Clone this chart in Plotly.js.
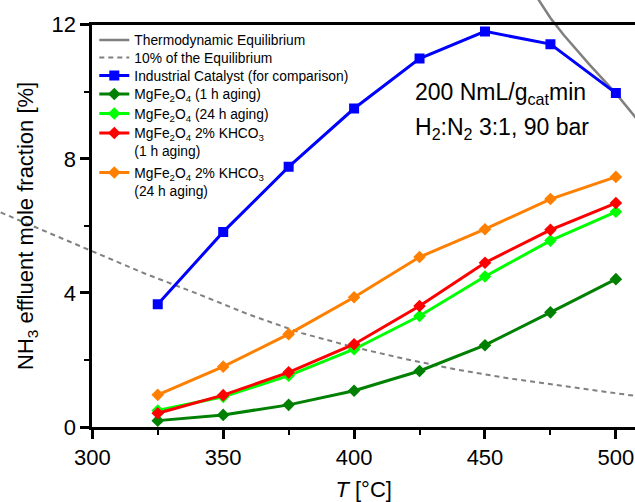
<!DOCTYPE html>
<html><head><meta charset="utf-8">
<script src="https://cdn.plot.ly/plotly-3.0.1.min.js"></script>
<style>html,body{margin:0;padding:0;background:#fff;} #chart{width:635px;height:502px;}</style>
</head><body><div id="chart"></div>
<script>
// ---- data ----
const temperatures = [325, 350, 375, 400, 425, 450, 475, 500];
const industrialCatalyst = [3.66, 5.82, 7.76, 9.50, 10.99, 11.80, 11.42, 9.96];
const mgfe1h = [0.19, 0.36, 0.66, 1.08, 1.67, 2.44, 3.42, 4.41];
const mgfe24h = [0.49, 0.90, 1.53, 2.32, 3.31, 4.49, 5.56, 6.42];
const khco1h = [0.41, 0.95, 1.63, 2.47, 3.61, 4.90, 5.88, 6.68];
const khco24h = [0.96, 1.80, 2.77, 3.87, 5.07, 5.90, 6.80, 7.46];
const eqT = [465, 470, 475, 480, 490, 500, 510];
const eqValues = [13.3, 12.8, 12.2, 11.7, 10.8, 9.95, 9.0];
const tenPctT = [265, 280, 300, 320, 340, 360, 380, 400, 420, 440, 460, 480, 500, 510];
const tenPctValues = [6.40, 5.90, 5.24, 4.58, 3.98, 3.35, 2.80, 2.38, 2.02, 1.70, 1.44, 1.22, 1.02, 0.90];
const xTicks = [300, 350, 400, 450, 500];
const xMinor = [325, 375, 425, 475];
const yTicks = [0, 4, 8, 12];
const yMinor = [2, 6, 10];
const legendNames = [
  'Thermodynamic Equilibrium',
  '10% of the Equilibrium',
  'Industrial Catalyst (for comparison)',
  'MgFe<sub>2</sub>O<sub>4</sub> (1 h aging)',
  'MgFe<sub>2</sub>O<sub>4</sub> (24 h aging)',
  'MgFe<sub>2</sub>O<sub>4</sub> 2% KHCO<sub>3</sub><br>(1 h aging)',
  'MgFe<sub>2</sub>O<sub>4</sub> 2% KHCO<sub>3</sub><br>(24 h aging)'
];
const annotLines = ['200 NmL/g<sub>cat</sub>min', 'H<sub>2</sub>:N<sub>2</sub> 3:1, 90 bar'];

// ---- geometry ----
const W = 635, H = 502;
const axL = 92.3, axR = 635, axTop = 24.7, axBot = 427;
const xMin = 300, xMax = 507.3, yMin = 0, yMax = 12;
const uX = (xMax - xMin) / (axR - axL);
const uY = (yMax - yMin) / (axBot - axTop);
const FONT = 'Liberation Sans, Arial, sans-serif';
const legendRowCenters = [41, 58.5, 76.5, 95, 114.5, 134, 173.5];
const legendIds = ['legend', 'legend2', 'legend3', 'legend4', 'legend5', 'legend6', 'legend7'];

const dia = {symbol: 'diamond', size: 9.7};
const traces = [
  {x: eqT, y: eqValues, xaxis: 'x', yaxis: 'y', mode: 'lines', name: legendNames[0],
   line: {color: '#808080', width: 2.5}},
  {x: tenPctT, y: tenPctValues, xaxis: 'x', yaxis: 'y', mode: 'lines', name: legendNames[1],
   line: {color: '#808080', width: 2, dash: '5px,4px'}},
  {x: temperatures, y: industrialCatalyst, xaxis: 'x2', yaxis: 'y2', mode: 'lines+markers', name: legendNames[2],
   line: {color: '#0000FF', width: 3}, marker: {symbol: 'square', size: 10, color: '#0000FF'}},
  {x: temperatures, y: mgfe1h, xaxis: 'x2', yaxis: 'y2', mode: 'lines+markers', name: legendNames[3],
   line: {color: '#008000', width: 3}, marker: Object.assign({color: '#008000'}, dia)},
  {x: temperatures, y: mgfe24h, xaxis: 'x2', yaxis: 'y2', mode: 'lines+markers', name: legendNames[4],
   line: {color: '#00FF00', width: 3}, marker: Object.assign({color: '#00FF00'}, dia)},
  {x: temperatures, y: khco1h, xaxis: 'x2', yaxis: 'y2', mode: 'lines+markers', name: legendNames[5],
   line: {color: '#FF0000', width: 3}, marker: Object.assign({color: '#FF0000'}, dia)},
  {x: temperatures, y: khco24h, xaxis: 'x2', yaxis: 'y2', mode: 'lines+markers', name: legendNames[6],
   line: {color: '#FF8000', width: 3}, marker: Object.assign({color: '#FF8000'}, dia)}
];
traces.forEach((t, i) => { t.legend = legendIds[i]; });

const layout = {
  width: W, height: H,
  margin: {l: 0, r: 0, t: 0, b: 0},
  paper_bgcolor: '#ffffff', plot_bgcolor: 'rgba(0,0,0,0)',
  font: {family: FONT, color: '#000000', size: 22},
  showlegend: true,
  xaxis: {domain: [0, 1], range: [xMin - axL * uX, xMax + (W - axR) * uX], visible: false, autorange: false, fixedrange: true},
  yaxis: {domain: [0, 1], range: [yMin - (H - axBot) * uY, yMax + axTop * uY], visible: false, autorange: false, fixedrange: true},
  xaxis2: {
    anchor: 'y2', domain: [axL / W, axR / W], range: [xMin, xMax], autorange: false,
    showline: true, linecolor: '#000', linewidth: 3, mirror: true,
    showgrid: false, zeroline: false,
    ticks: 'outside', ticklen: 9, tickwidth: 3, tickcolor: '#000',
    tickmode: 'array', tickvals: xTicks, ticktext: xTicks.map(String),
    minor: {ticks: 'outside', ticklen: 5, tickwidth: 2, tickcolor: '#000', tickmode: 'array', tickvals: xMinor},
    tickfont: {family: FONT, size: 22, color: '#000'},
    title: {text: '<i>T</i> [°C]', font: {family: FONT, size: 22, color: '#000'}, standoff: 14}
  },
  yaxis2: {
    anchor: 'x2', domain: [(H - axBot) / H, (H - axTop) / H], range: [yMin, yMax], autorange: false,
    showline: true, linecolor: '#000', linewidth: 3, mirror: false,
    showgrid: false, zeroline: false,
    ticks: 'outside', ticklen: 9, tickwidth: 3, tickcolor: '#000',
    tickmode: 'array', tickvals: yTicks, ticktext: yTicks.map(String),
    minor: {ticks: 'outside', ticklen: 5, tickwidth: 2, tickcolor: '#000', tickmode: 'array', tickvals: yMinor},
    tickfont: {family: FONT, size: 22, color: '#000'},
    title: {text: 'NH<sub>3</sub> effluent mole fraction [%]', font: {family: FONT, size: 22, color: '#000'}, standoff: 12}
  },
  annotations: [
    {xref: 'paper', yref: 'paper', x: 413 / W, y: 1 - 93 / H, xanchor: 'left', yanchor: 'middle',
     text: annotLines[0], showarrow: false, font: {family: FONT, size: 23, color: '#000'}},
    {xref: 'paper', yref: 'paper', x: 413 / W, y: 1 - 128 / H, xanchor: 'left', yanchor: 'middle',
     text: annotLines[1], showarrow: false, font: {family: FONT, size: 23, color: '#000'}}
  ]
};
legendIds.forEach((id, i) => {
  layout[id] = {
    x: (axL + 2) / W, xanchor: 'left', y: 1 - (legendRowCenters[i] - 16.5) / H, yanchor: 'top',
    bgcolor: 'rgba(0,0,0,0)', borderwidth: 0, valign: 'top',
    font: {family: FONT, size: 13.8, color: '#000'}, tracegroupgap: 0, itemwidth: 30
  };
});

Plotly.newPlot('chart', traces, layout, {staticPlot: true, displayModeBar: false});
</script>
</body></html>
